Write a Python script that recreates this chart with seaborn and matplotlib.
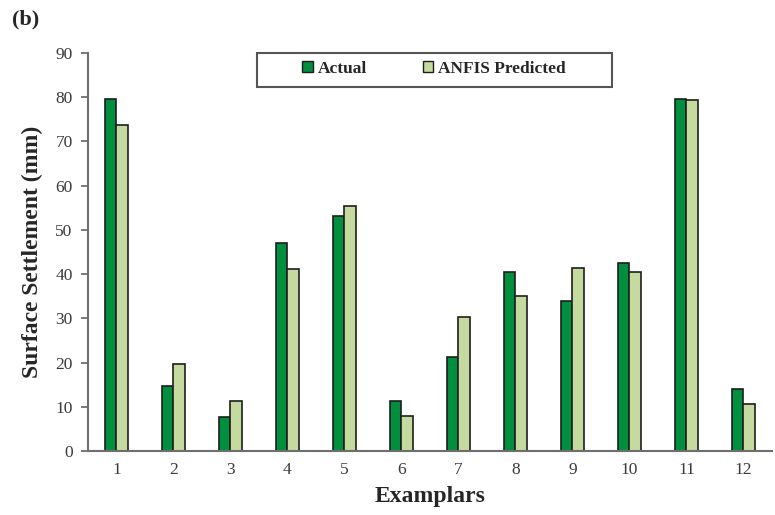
import matplotlib
matplotlib.use("Agg")
import matplotlib.pyplot as plt
from matplotlib.patches import Rectangle
import numpy as np
import pandas as pd
import seaborn as sns

# Surface settlement per examplar: measured vs ANFIS prediction (mm)
examplars = ["1", "2", "3", "4", "5", "6", "7", "8", "9", "10", "11", "12"]
actual = [79.7, 14.7, 7.6, 47.1, 53.2, 11.3, 21.3, 40.4, 34.0, 42.5, 79.7, 14.0]
anfis_predicted = [73.8, 19.6, 11.4, 41.2, 55.5, 8.0, 30.2, 35.1, 41.4, 40.4, 79.3, 10.7]
series_names = ["Actual", "ANFIS Predicted"]
y_ticks = [0, 10, 20, 30, 40, 50, 60, 70, 80, 90]

df = pd.DataFrame({
    "Examplar": examplars * 2,
    "Settlement": actual + anfis_predicted,
    "Series": [series_names[0]] * len(examplars) + [series_names[1]] * len(examplars),
})

sns.set_theme(style="white")
plt.rcParams["font.family"] = ["Liberation Serif", "DejaVu Serif"]

fig = plt.figure(figsize=(7.75, 5.15), dpi=100)
ax = fig.add_axes([0.1135, 0.1243, 0.8825, 0.7727])

palette = {"Actual": "#008f3e", "ANFIS Predicted": "#c5da9e"}
sns.barplot(data=df, x="Examplar", y="Settlement", hue="Series",
            order=examplars, hue_order=series_names, palette=palette,
            width=0.41, gap=0, dodge=True, saturation=1,
            edgecolor="#1e1e1e", linewidth=1.2, errorbar=None, ax=ax)

ax.set_xlim(-0.5, len(examplars) - 0.5)
ax.set_ylim(0, 90)
ax.set_yticks(y_ticks)
ax.set_yticklabels([str(t) for t in y_ticks])

for side in ("top", "right"):
    ax.spines[side].set_visible(False)
for side in ("left", "bottom"):
    ax.spines[side].set_color("#6e6e6e")
    ax.spines[side].set_linewidth(1.5)

ax.tick_params(axis="y", direction="out", length=5, width=1.3, color="#6e6e6e",
               labelsize=12.5, labelcolor="#3a3a3a", pad=6, left=True)
ax.tick_params(axis="x", length=0, labelsize=12.5, labelcolor="#3a3a3a", pad=8)

ax.set_xlabel("Examplars", fontsize=17, fontweight="bold", labelpad=6)
ax.set_ylabel("Surface Settlement (mm)", fontsize=17, fontweight="bold", labelpad=9)

# legend: entries side by side inside a plain rectangular box
leg = ax.legend(loc="center", bbox_to_anchor=(0.506, 0.96), ncol=2, frameon=False,
                handlelength=0.6, handleheight=0.6, handletextpad=0.3,
                columnspacing=3.2, prop={"weight": "bold", "size": 12.5})
for h in leg.legend_handles:
    h.set_edgecolor("#1e1e1e")
    h.set_linewidth(1.0)
ax.add_patch(Rectangle((0.2474, 0.9145), 0.519, 0.0854, transform=ax.transAxes,
                       fill=False, edgecolor="#555555", linewidth=1.5, clip_on=False,
                       zorder=5))

fig.text(0.015, 0.963, "(b)", fontsize=16, fontweight="bold", ha="left", va="center")

fig.savefig("out.png", dpi=100)
